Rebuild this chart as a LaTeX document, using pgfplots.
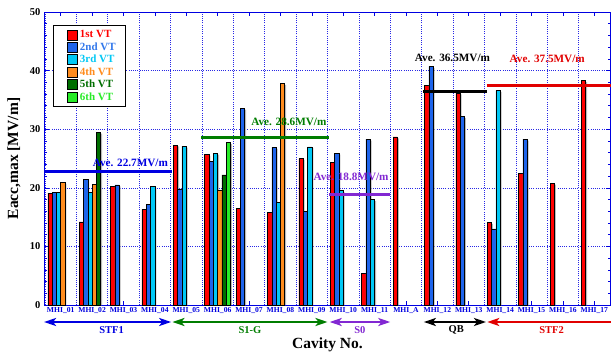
\documentclass[border=0pt]{standalone}
\usepackage{fontspec}
\setmainfont{Liberation Serif}
\usepackage{pgfplots}
\pgfplotsset{compat=1.18}
\usepackage{pgfplotstable}
\usetikzlibrary{arrows.meta}

\definecolor{cA}{RGB}{255,0,0}
\definecolor{cB}{RGB}{30,100,235}
\definecolor{cC}{RGB}{0,200,245}
\definecolor{cD}{RGB}{255,140,30}
\definecolor{cE}{RGB}{0,110,0}
\definecolor{cF}{RGB}{40,235,40}
\definecolor{tB}{RGB}{50,120,235}
\definecolor{gridblue}{RGB}{40,40,230}
\definecolor{axblue}{RGB}{0,0,225}
\definecolor{sgreen}{RGB}{0,125,0}
\definecolor{spurple}{RGB}{130,40,210}
\definecolor{sred}{RGB}{225,0,0}

\pgfplotstableread{
x y
0 19.1
1 14.2
2 20.3
3 16.3
4 27.3
5 25.7
6 16.5
7 15.8
8 25.0
9 24.4
10 5.4
11 28.7
12 37.5
13 36.2
14 14.1
15 22.5
16 20.8
17 38.3
}\tA
\pgfplotstableread{
x y
0 19.2
1 21.5
2 20.5
3 17.2
4 19.8
5 24.5
6 33.6
7 26.9
8 16.0
9 25.9
10 28.3
12 40.7
13 32.2
14 13.0
15 28.3
}\tB
\pgfplotstableread{
x y
0 19.2
1 19.2
3 20.3
4 27.1
5 25.9
7 17.5
8 27.0
9 19.5
10 18.0
14 36.6
}\tC
\pgfplotstableread{
x y
0 20.9
1 20.6
5 19.6
7 37.8
}\tD
\pgfplotstableread{
x y
1 29.5
5 22.2
}\tE
\pgfplotstableread{
x y
5 27.7
}\tF

\begin{document}
\begin{tikzpicture}
\useasboundingbox (0,0) rectangle (611pt,354pt);
\begin{axis}[
  at={(45pt,49pt)}, anchor=south west,
  scale only axis, width=565pt, height=293pt,
  xmin=-0.5, xmax=17.5, ymin=0, ymax=50,
  ybar, bar width=4.3pt,
  xtick={0,...,17},
  xticklabels={MHI\_01,MHI\_02,MHI\_03,MHI\_04,MHI\_05,MHI\_06,MHI\_07,MHI\_08,MHI\_09,MHI\_10,MHI\_11,MHI\_A,MHI\_12,MHI\_13,MHI\_14,MHI\_15,MHI\_16,MHI\_17},
  minor xtick={-0.5,0.5,...,17.5},
  ytick={0,10,...,50}, minor y tick num=4,
  xminorgrids=true, ymajorgrids=true, xmajorgrids=false,
  grid style={gridblue, line width=0.6pt, dash pattern=on 1pt off 1.2pt},
  axis line style={axblue, line width=1pt},
  tick style={axblue, line width=0.6pt},
  minor x tick style={draw=none},
  tick align=inside,
  major tick length=4pt, minor tick length=2.5pt,
  xticklabel style={font=\bfseries\fontsize{7.6}{8}\selectfont, text=axblue, yshift=1.5pt},
  yticklabel style={font=\bfseries\fontsize{10.5}{11}\selectfont, xshift=-1pt},
  /pgf/number format/assume math mode=true,
  xlabel={Cavity No.}, ylabel={Eacc,max [MV/m]},
  label style={font=\bfseries\fontsize{15.5}{17}\selectfont},
  xlabel style={at={(axis description cs:0.5,-0.1365)}, anchor=center},
  ylabel style={at={(axis description cs:-0.0549,0.5)}, anchor=center},
  clip=false,
  legend style={at={(0.0142,0.9556)}, anchor=north west, draw=black, line width=0.8pt,
    font=\bfseries\fontsize{11}{12}\selectfont, inner xsep=8pt, inner ysep=3pt,
    row sep=-0.6pt, cells={anchor=west}},
  legend image code/.code={\path (0pt,0pt); \draw[#1] (6pt,-5pt) rectangle (16pt,5pt);},
]
% shadows
\addplot[fill=gray!55, draw=none, bar shift=-9.3pt, forget plot] table[y expr=\thisrow{y}-0.25] {\tA};
\addplot[fill=gray!55, draw=none, bar shift=-5.0pt, forget plot] table[y expr=\thisrow{y}-0.25] {\tB};
\addplot[fill=gray!55, draw=none, bar shift=-0.7pt, forget plot] table[y expr=\thisrow{y}-0.25] {\tC};
\addplot[fill=gray!55, draw=none, bar shift=3.6pt, forget plot] table[y expr=\thisrow{y}-0.25] {\tD};
\addplot[fill=gray!55, draw=none, bar shift=7.9pt, forget plot] table[y expr=\thisrow{y}-0.25] {\tE};
\addplot[fill=gray!55, draw=none, bar shift=12.2pt, forget plot] table[y expr=\thisrow{y}-0.25] {\tF};
% bars
\addplot[fill=cA, draw=black, line width=0.5pt, bar shift=-10.75pt] table {\tA};
\addlegendentry{\textcolor{cA}{1st VT}}
\addplot[fill=cB, draw=black, line width=0.5pt, bar shift=-6.45pt] table {\tB};
\addlegendentry{\textcolor{tB}{2nd VT}}
\addplot[fill=cC, draw=black, line width=0.5pt, bar shift=-2.15pt] table {\tC};
\addlegendentry{\textcolor{cC}{3rd VT}}
\addplot[fill=cD, draw=black, line width=0.5pt, bar shift=2.15pt] table {\tD};
\addlegendentry{\textcolor{cD}{4th VT}}
\addplot[fill=cE, draw=black, line width=0.5pt, bar shift=6.45pt] table {\tE};
\addlegendentry{\textcolor{cE}{5th VT}}
\addplot[fill=cF, draw=black, line width=0.5pt, bar shift=10.75pt] table {\tF};
\addlegendentry{\textcolor{cF}{6th VT}}
% averages
\addplot[sharp plot, axblue, line width=3pt, forget plot] coordinates {(-0.5,22.7) (3.55,22.7)};
\addplot[sharp plot, sgreen, line width=3pt, forget plot] coordinates {(4.47,28.6) (8.55,28.6)};
\addplot[sharp plot, spurple, line width=3pt, forget plot] coordinates {(8.55,18.8) (10.5,18.8)};
\addplot[sharp plot, black, line width=3pt, forget plot] coordinates {(11.55,36.5) (13.57,36.5)};
\addplot[sharp plot, sred, line width=3pt, forget plot] coordinates {(13.57,37.4) (17.6,37.4)};

\tikzset{avel/.style={font=\bfseries\fontsize{11.2}{13}\selectfont}}
\node[avel, text=axblue] at (axis cs:2.22,24.2) {Ave. 22.7MV/m};
\node[avel, text=sgreen] at (axis cs:7.27,31.2) {Ave. 28.6MV/m};
\node[avel, text=spurple] at (axis cs:9.25,21.8) {Ave. 18.8MV/m};
\node[avel, text=black] at (axis cs:12.48,42.1) {Ave. 36.5MV/m};
\node[avel, text=sred] at (axis cs:15.5,42.0) {Ave. 37.5MV/m};

% group arrows
\tikzset{garr/.style={line width=2.2pt, {Stealth[length=12pt,width=8pt,inset=3pt]}-{Stealth[length=12pt,width=8pt,inset=3pt]}}}
\draw[garr, axblue] ([yshift=-17pt]axis cs:-0.53,0) -- ([yshift=-17pt]axis cs:3.52,0);
\draw[garr, sgreen] ([yshift=-17pt]axis cs:3.56,0) -- ([yshift=-17pt]axis cs:8.5,0);
\draw[garr, spurple] ([yshift=-17pt]axis cs:8.57,0) -- ([yshift=-17pt]axis cs:10.5,0);
\draw[garr, black] ([yshift=-17pt]axis cs:11.57,0) -- ([yshift=-17pt]axis cs:13.55,0);
\draw[line width=2.2pt, sred, {Stealth[length=12pt,width=8pt,inset=3pt]}-] ([yshift=-17pt]axis cs:13.59,0) -- ([yshift=-17pt]axis cs:17.7,0);

\tikzset{grpl/.style={font=\bfseries\fontsize{10.5}{12}\selectfont}}
\node[grpl, text=axblue] at ([yshift=-25pt]axis cs:1.62,0) {STF1};
\node[grpl, text=sgreen] at ([yshift=-25pt]axis cs:6.03,0) {S1-G};
\node[grpl, text=spurple] at ([yshift=-25pt]axis cs:9.53,0) {S0};
\node[grpl, text=black] at ([yshift=-25pt]axis cs:12.6,0) {QB};
\node[grpl, text=sred] at ([yshift=-25pt]axis cs:15.64,0) {STF2};
\end{axis}
\end{tikzpicture}
\end{document}
